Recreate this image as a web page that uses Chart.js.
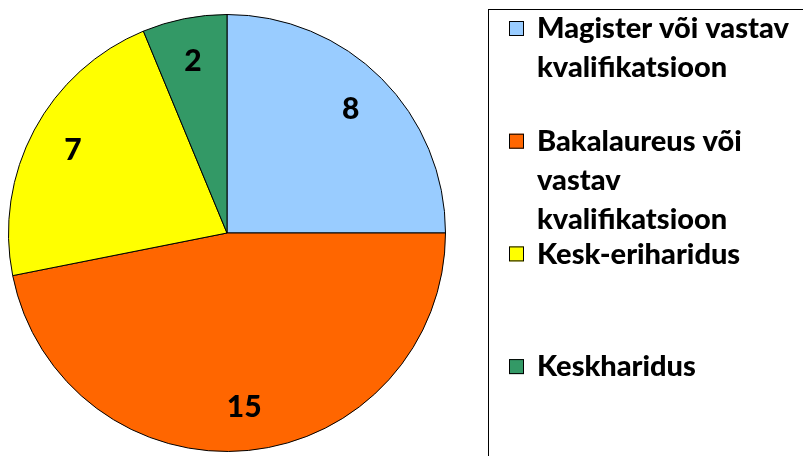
<!DOCTYPE html>
<html>
<head>
<meta charset="utf-8">
<script src="https://cdn.jsdelivr.net/npm/chart.js@4.4.1/dist/chart.umd.min.js"></script>
<style>
  html, body { margin: 0; padding: 0; background: #fff; }
  #wrap { width: 803px; height: 456px; position: relative; }
</style>
</head>
<body>
<div id="wrap"><canvas id="c" width="803" height="456"></canvas></div>
<script>
const categories = [
  ["Magister või vastav", "kvalifikatsioon"],
  ["Bakalaureus või", "vastav", "kvalifikatsioon"],
  ["Kesk-eriharidus"],
  ["Keskharidus"]
];
const values = [8, 15, 7, 2];
const colors = ["#99CCFF", "#FF6600", "#FFFF00", "#339966"];

const valueLabels = {
  id: 'valueLabels',
  afterDatasetsDraw(chart) {
    const ctx = chart.ctx;
    const meta = chart.getDatasetMeta(0);
    ctx.save();
    ctx.font = '900 30px Lato';
    ctx.fillStyle = '#000';
    ctx.textAlign = 'center';
    ctx.textBaseline = 'middle';
    meta.data.forEach((arc, i) => {
      const p = arc.getProps(['x','y','startAngle','endAngle','outerRadius'], true);
      const mid = (p.startAngle + p.endAngle) / 2;
      const r = p.outerRadius * 0.8;
      ctx.fillText(String(chart.data.datasets[0].data[i]), p.x + Math.cos(mid) * r, p.y + Math.sin(mid) * r);
    });
    ctx.restore();
  }
};

const boxLegend = {
  id: 'boxLegend',
  afterDraw(chart, args, opts) {
    const ctx = chart.ctx;
    ctx.save();
    ctx.strokeStyle = '#000';
    ctx.lineWidth = 1;
    ctx.strokeRect(opts.boxX + 0.5, opts.boxY + 0.5, 600, 600);
    ctx.font = '900 29px Lato';
    ctx.fillStyle = '#000';
    ctx.textAlign = 'left';
    ctx.textBaseline = 'middle';
    chart.data.labels.forEach((lab, i) => {
      const cy = opts.firstY + i * opts.itemGap;
      const bg = chart.data.datasets[0].backgroundColor[i];
      ctx.fillStyle = bg;
      ctx.fillRect(opts.swX, cy - 7, 15, 15);
      ctx.strokeStyle = '#000';
      ctx.strokeRect(opts.swX + 0.5, cy - 6.5, 14, 14);
      ctx.fillStyle = '#000';
      const lines = Array.isArray(lab) ? lab : [lab];
      lines.forEach((ln, k) => {
        ctx.fillText(ln, opts.textX, cy + k * opts.lineH + 1);
      });
    });
    ctx.restore();
  }
};

new Chart(document.getElementById('c'), {
  type: 'pie',
  data: {
    labels: categories,
    datasets: [{
      data: values,
      backgroundColor: colors,
      borderColor: '#000',
      borderWidth: 1
    }]
  },
  options: {
    responsive: false,
    animation: false,
    layout: { padding: { left: 8, top: 14, bottom: 4, right: 357 } },
    plugins: {
      legend: { display: false },
      tooltip: { enabled: false },
      boxLegend: { boxX: 488, boxY: 9, swX: 509, textX: 537, firstY: 28, itemGap: 112.7, lineH: 39 }
    }
  },
  plugins: [valueLabels, boxLegend]
});
</script>
</body>
</html>
